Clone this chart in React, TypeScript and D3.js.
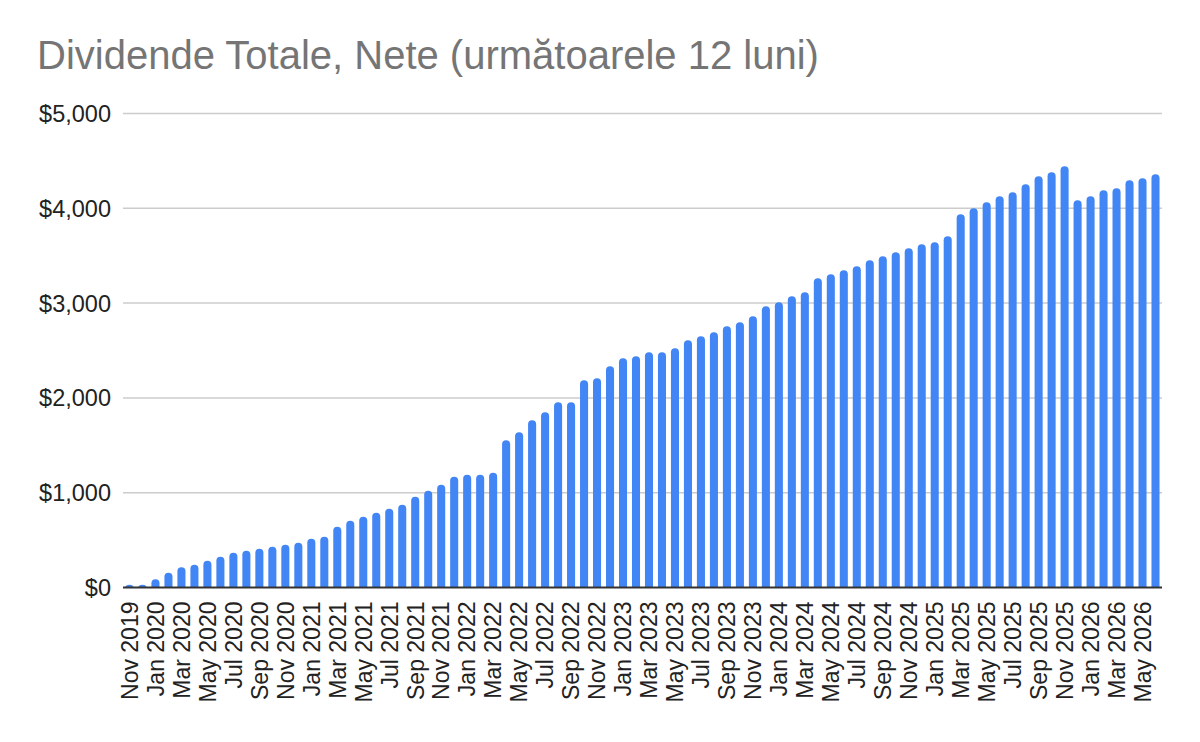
import { useMemo } from 'react';
import * as d3 from 'd3';

// Dividend totals (next 12 months)
const MONTHS = [
  'Nov 2019', 'Dec 2019',
  'Jan 2020', 'Feb 2020', 'Mar 2020', 'Apr 2020', 'May 2020', 'Jun 2020', 'Jul 2020', 'Aug 2020', 'Sep 2020', 'Oct 2020', 'Nov 2020', 'Dec 2020',
  'Jan 2021', 'Feb 2021', 'Mar 2021', 'Apr 2021', 'May 2021', 'Jun 2021', 'Jul 2021', 'Aug 2021', 'Sep 2021', 'Oct 2021', 'Nov 2021', 'Dec 2021',
  'Jan 2022', 'Feb 2022', 'Mar 2022', 'Apr 2022', 'May 2022', 'Jun 2022', 'Jul 2022', 'Aug 2022', 'Sep 2022', 'Oct 2022', 'Nov 2022', 'Dec 2022',
  'Jan 2023', 'Feb 2023', 'Mar 2023', 'Apr 2023', 'May 2023', 'Jun 2023', 'Jul 2023', 'Aug 2023', 'Sep 2023', 'Oct 2023', 'Nov 2023', 'Dec 2023',
  'Jan 2024', 'Feb 2024', 'Mar 2024', 'Apr 2024', 'May 2024', 'Jun 2024', 'Jul 2024', 'Aug 2024', 'Sep 2024', 'Oct 2024', 'Nov 2024', 'Dec 2024',
  'Jan 2025', 'Feb 2025', 'Mar 2025', 'Apr 2025', 'May 2025', 'Jun 2025', 'Jul 2025', 'Aug 2025', 'Sep 2025', 'Oct 2025', 'Nov 2025', 'Dec 2025',
  'Jan 2026', 'Feb 2026', 'Mar 2026', 'Apr 2026', 'May 2026', 'Jun 2026',
];

const DIVIDENDS = [
  30, 30,
  88, 155, 214, 239, 282, 324, 366, 387, 408, 429, 450, 471,
  514, 535, 640, 704, 746, 788, 831, 873, 957, 1020, 1083, 1168,
  1189, 1189, 1210, 1553, 1637, 1764, 1848, 1954, 1954, 2186, 2207, 2333,
  2418, 2439, 2481, 2481, 2523, 2608, 2650, 2692, 2755, 2797, 2861, 2966,
  3008, 3072, 3114, 3262, 3304, 3346, 3388, 3451, 3494, 3536, 3578, 3620,
  3641, 3705, 3937, 4000, 4063, 4127, 4169, 4253, 4338, 4380, 4443, 4084,
  4127, 4190, 4211, 4295, 4316, 4359,
];

const Y_TICKS = [0, 1000, 2000, 3000, 4000, 5000];

const TITLE = 'Dividende Totale, Nete (următoarele 12 luni)';

const W = 1200;
const H = 742;
const MARGIN = { top: 113.5, right: 38, bottom: 154.5, left: 123 };
const BAR_COLOR = '#4285F4';
const FONT = 'Arial, "Liberation Sans", sans-serif';

// bar with rounded top, square bottom
function barPath(x: number, y: number, w: number, h: number) {
  const r = Math.min(w / 2, h);
  const b = y + h;
  return `M${x},${b}V${y + r}A${w / 2},${r} 0 0 1 ${x + w},${y + r}V${b}Z`;
}

export default function App() {
  const x = useMemo(
    () => d3.scaleBand<string>().domain(MONTHS).range([MARGIN.left, W - MARGIN.right]).paddingInner(0.38).paddingOuter(0.19),
    [],
  );
  const y = useMemo(
    () => d3.scaleLinear().domain([0, 5000]).range([H - MARGIN.bottom, MARGIN.top]),
    [],
  );
  const fmt = d3.format('$,');

  return (
    <div style={{ position: 'absolute', left: 0, top: 0, background: '#fff' }}>
      <svg width={W} height={H} style={{ display: 'block' }}>
        <rect width={W} height={H} fill="#fff" />

        <text x={37} y={69} fontFamily={FONT} fontSize={40} fill="#757575">{TITLE}</text>

        {/* gridlines + y labels */}
        {Y_TICKS.map((t) => (
          <g key={t}>
            {t > 0 && (
              <line x1={MARGIN.left} x2={W - MARGIN.right} y1={y(t)} y2={y(t)} stroke="#cccccc" strokeWidth={1.5} />
            )}
            <text x={111} y={y(t)} dy="0.36em" textAnchor="end" fontFamily={FONT} fontSize={23.5} fill="#222">
              {fmt(t)}
            </text>
          </g>
        ))}

        {/* bars */}
        {MONTHS.map((m, i) => {
          const v = DIVIDENDS[i];
          const bx = x(m) ?? 0;
          return <path key={m} d={barPath(bx, y(v), x.bandwidth(), y(0) - y(v))} fill={BAR_COLOR} />;
        })}

        {/* baseline */}
        <line x1={MARGIN.left} x2={W - MARGIN.right} y1={y(0)} y2={y(0)} stroke="#333" strokeWidth={2} />

        {/* x labels, every other month */}
        {MONTHS.filter((_, i) => i % 2 === 0).map((m) => {
          const cx = (x(m) ?? 0) + x.bandwidth() / 2;
          return (
            <text
              key={m}
              transform={`translate(${cx},${y(0) + 14}) rotate(-90)`}
              dy="0.36em"
              textAnchor="end"
              fontFamily={FONT}
              fontSize={23}
              fill="#222"
            >
              {m}
            </text>
          );
        })}
      </svg>
    </div>
  );
}
